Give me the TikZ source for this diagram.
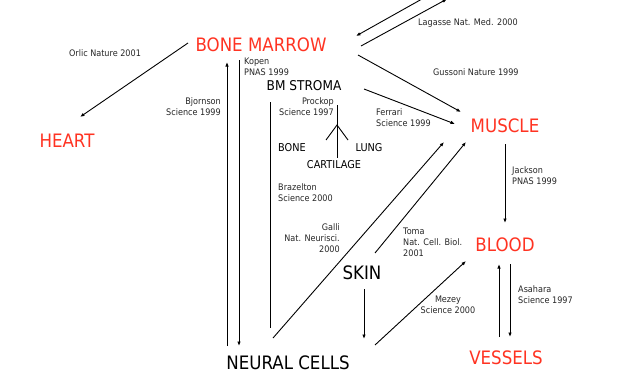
\documentclass[tikz,border=0pt]{standalone}
\usepackage{fontspec}
\setmainfont[FakeStretch=0.9]{DejaVu Sans}
\usetikzlibrary{arrows.meta}
\definecolor{tissuered}{RGB}{255,51,34}
\begin{document}
\begin{tikzpicture}[x=1pt,y=-1pt,
  organ/.style={text=tissuered, inner sep=0pt, font=\fontsize{18.5}{20}\selectfont},
  cell/.style={inner sep=0pt, font=\fontsize{18.5}{20}\selectfont},
  tissue/.style={inner sep=0pt, font=\fontsize{10.8}{12}\selectfont},
  ref/.style={inner sep=0pt, text=black!85, font=\fontsize{9}{11}\selectfont},
  link/.style={line width=0.9pt, -{Latex[length=4.5pt,width=3.5pt]}},
  plain/.style={line width=0.9pt}]
\useasboundingbox (0,0) rectangle (644,383);
\clip (0,0) rectangle (644,383);
% cell types
\node[organ] (bm) at (261,45) {BONE MARROW};
\node[organ] (heart) at (67,141) {HEART};
\node[organ] (muscle) at (505,126) {MUSCLE};
\node[organ] (blood) at (505,245) {BLOOD};
\node[organ] (vessels) at (506,358) {VESSELS};
\node[cell, font=\fontsize{13.5}{15}\selectfont] (stroma) at (304,86) {BM STROMA};
\node[cell] (skin) at (362,273) {SKIN};
\node[cell] (neural) at (288,363) {NEURAL CELLS};
\node[tissue] (bone) at (292,148) {BONE};
\node[tissue] (cartilage) at (334,165) {CARTILAGE};
\node[tissue] (lung) at (369,148) {LUNG};
\coordinate (fork) at (337,125);
\coordinate (lagin) at (438,-10);
\coordinate (lagout) at (447,-1);
% references
\node[ref] (orlic) at (105,53) {Orlic Nature 2001};
\node[ref, anchor=north west, align=left] (kopen) at (244,58) {Kopen\\PNAS 1999};
\node[ref, anchor=north east, align=right] (bjornson) at (221,97) {Bjornson\\Science 1999};
\node[ref, anchor=north east, align=right] (prockop) at (334,97) {Prockop\\Science 1997};
\node[ref, anchor=north west, align=left] (ferrari) at (376,108) {Ferrari\\Science 1999};
\node[ref, anchor=west] (lagasse) at (418,23) {Lagasse Nat. Med. 2000};
\node[ref, anchor=west] (gussoni) at (433,72) {Gussoni Nature 1999};
\node[ref, anchor=north west, align=left] (jackson) at (512,166) {Jackson\\PNAS 1999};
\node[ref, anchor=north west, align=left] (brazelton) at (278,183) {Brazelton\\Science 2000};
\node[ref, anchor=north east, align=right] (galli) at (340,223) {Galli\\Nat. Neurisci.\\2000};
\node[ref, anchor=north west, align=left] (toma) at (403,228) {Toma\\Nat. Cell. Biol.\\2001};
\node[ref, anchor=north, align=center] (mezey) at (448,296) {Mezey\\Science 2000};
\node[ref, anchor=north west, align=left] (asahara) at (518,285) {Asahara\\Science 1997};
% connectors
\draw[link] ([shift={(-73,-2)}]bm.center) -- ([shift={(13,-24)}]heart.center);
\draw[link] (lagin) -- ([shift={(95,-9)}]bm.center);
\draw[link] ([shift={(100,1)}]bm.center) -- (lagout);
\draw[link] ([shift={(97,10)}]bm.center) -- ([shift={(-44,-14)}]muscle.center);
\draw[link] ([shift={(60,3)}]stroma.center) -- ([shift={(-50,-2)}]muscle.center);
\draw[link] ([shift={(0,18)}]muscle.center) -- ([shift={(0,-22)}]blood.center);
\draw[link] ([shift={(5,19)}]blood.center) -- ([shift={(4,-21)}]vessels.center);
\draw[link] ([shift={(-7,-21)}]vessels.center) -- ([shift={(-6,19)}]blood.center);
\draw[link] ([shift={(-61,-17)}]neural.center) -- ([shift={(-34,17)}]bm.center);
\draw[link] ([shift={(-22,15)}]bm.center) -- ([shift={(-49,-17)}]neural.center);
\draw[plain] ([shift={(-34,16)}]stroma.center) -- ([shift={(-18,-35)}]neural.center);
\draw[plain] ([shift={(33,19)}]stroma.center) -- ([shift={(3,-7)}]cartilage.center);
\draw[plain] ([shift={(34,-8)}]bone.center) -- (fork) -- ([shift={(-21,-8)}]lung.center);
\draw[link] ([shift={(-15,-25)}]neural.center) -- ([shift={(-61,16)}]muscle.center);
\draw[link] ([shift={(13,-20)}]skin.center) -- ([shift={(-39,16)}]muscle.center);
\draw[link] ([shift={(2,16)}]skin.center) -- ([shift={(76,-24)}]neural.center);
\draw[link] ([shift={(87,-18)}]neural.center) -- ([shift={(-39,16)}]blood.center);
\end{tikzpicture}
\end{document}
